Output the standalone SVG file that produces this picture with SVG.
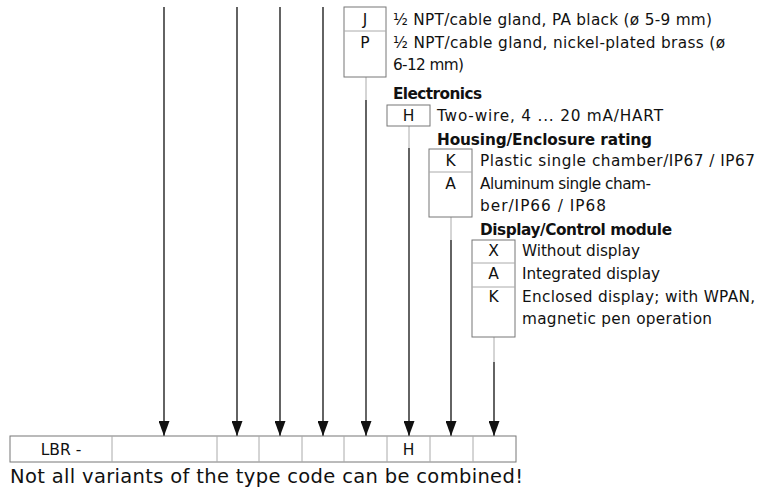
<svg xmlns="http://www.w3.org/2000/svg" width="760" height="491" viewBox="0 0 760 491">
<style>
text{font-family:"DejaVu Sans","Liberation Sans",Arial,sans-serif;font-size:15.3px;fill:#111}
.b{font-weight:bold}
.c{text-anchor:middle;font-size:15.5px}
.box{fill:#fff;stroke:#777;stroke-width:1}
.sep{stroke:#aaa;stroke-width:1}
.ln{stroke:#222;stroke-width:1.4;fill:none}
.gl{stroke:#aaa;stroke-width:1;fill:none}
.big{font-size:19.5px}
</style>
<defs>
<marker id="ah" markerWidth="15" markerHeight="11" refX="15" refY="5.5" orient="auto" markerUnits="userSpaceOnUse" viewBox="0 0 15 11">
<path d="M0,0 L15,5.5 L0,11 Z" fill="#111"/>
</marker>
</defs>
<g id="connectors">
<line class="ln" x1="164" y1="7" x2="164" y2="436" marker-end="url(#ah)"/>
<line class="ln" x1="237" y1="7" x2="237" y2="436" marker-end="url(#ah)"/>
<line class="ln" x1="280" y1="7" x2="280" y2="436" marker-end="url(#ah)"/>
<line class="ln" x1="323" y1="7" x2="323" y2="436" marker-end="url(#ah)"/>
<line class="gl" x1="366" y1="77" x2="366" y2="100"/>
<line class="ln" x1="366" y1="100" x2="366" y2="436" marker-end="url(#ah)"/>
<line class="gl" x1="409" y1="126" x2="409" y2="148"/>
<line class="ln" x1="409" y1="148" x2="409" y2="436" marker-end="url(#ah)"/>
<line class="gl" x1="451" y1="217" x2="451" y2="240"/>
<line class="ln" x1="451" y1="240" x2="451" y2="436" marker-end="url(#ah)"/>
<line class="gl" x1="494" y1="337" x2="494" y2="362"/>
<line class="ln" x1="494" y1="362" x2="494" y2="436" marker-end="url(#ah)"/>
</g>
<g id="cable">
<rect class="box" x="344" y="7" width="42" height="70"/>
<line class="sep" x1="344" y1="31" x2="386" y2="31"/>
<text class="c" x="365" y="25">J</text>
<text class="c" x="365" y="48">P</text>
<text x="393" y="25" textLength="319">½ NPT/cable gland, PA black (ø 5-9 mm)</text>
<text x="393" y="48" textLength="332">½ NPT/cable gland, nickel-plated brass (ø</text>
<text x="393" y="70" textLength="71">6-12 mm)</text>
</g>
<g id="electronics">
<text class="b" x="393" y="99" textLength="89">Electronics</text>
<rect class="box" x="387" y="105" width="43" height="21"/>
<text class="c" x="408.5" y="121">H</text>
<text x="437" y="121" textLength="226">Two-wire, 4 ... 20 mA/HART</text>
</g>
<g id="housing">
<text class="b" x="437" y="145" textLength="215">Housing/Enclosure rating</text>
<rect class="box" x="429" y="149" width="43" height="68"/>
<line class="sep" x1="429" y1="172" x2="472" y2="172"/>
<text class="c" x="450.5" y="166">K</text>
<text class="c" x="450.5" y="189">A</text>
<text x="480" y="166" textLength="275">Plastic single chamber/IP67 / IP67</text>
<text x="480" y="189" textLength="171">Aluminum single cham-</text>
<text x="480" y="211" textLength="126">ber/IP66 / IP68</text>
</g>
<g id="display">
<text class="b" x="480" y="235" textLength="192">Display/Control module</text>
<rect class="box" x="472" y="240" width="43" height="97"/>
<line class="sep" x1="472" y1="263" x2="515" y2="263"/>
<line class="sep" x1="472" y1="287" x2="515" y2="287"/>
<text class="c" x="493.5" y="256">X</text>
<text class="c" x="493.5" y="279">A</text>
<text class="c" x="493.5" y="302">K</text>
<text x="522" y="256" textLength="118">Without display</text>
<text x="522" y="279" textLength="138">Integrated display</text>
<text x="522" y="302" textLength="233">Enclosed display; with WPAN,</text>
<text x="522" y="324" textLength="190">magnetic pen operation</text>
</g>
<g id="typecode">
<rect class="box" x="10" y="436" width="506" height="26"/>
<line class="sep" x1="112" y1="436" x2="112" y2="462"/>
<line class="sep" x1="217" y1="436" x2="217" y2="462"/>
<line class="sep" x1="259" y1="436" x2="259" y2="462"/>
<line class="sep" x1="302" y1="436" x2="302" y2="462"/>
<line class="sep" x1="344" y1="436" x2="344" y2="462"/>
<line class="sep" x1="387" y1="436" x2="387" y2="462"/>
<line class="sep" x1="430" y1="436" x2="430" y2="462"/>
<line class="sep" x1="473" y1="436" x2="473" y2="462"/>
<text class="c" x="61" y="455">LBR -</text>
<text class="c" x="408.5" y="455">H</text>
</g>
<text class="big" x="10" y="483" textLength="513">Not all variants of the type code can be combined!</text>
</svg>
